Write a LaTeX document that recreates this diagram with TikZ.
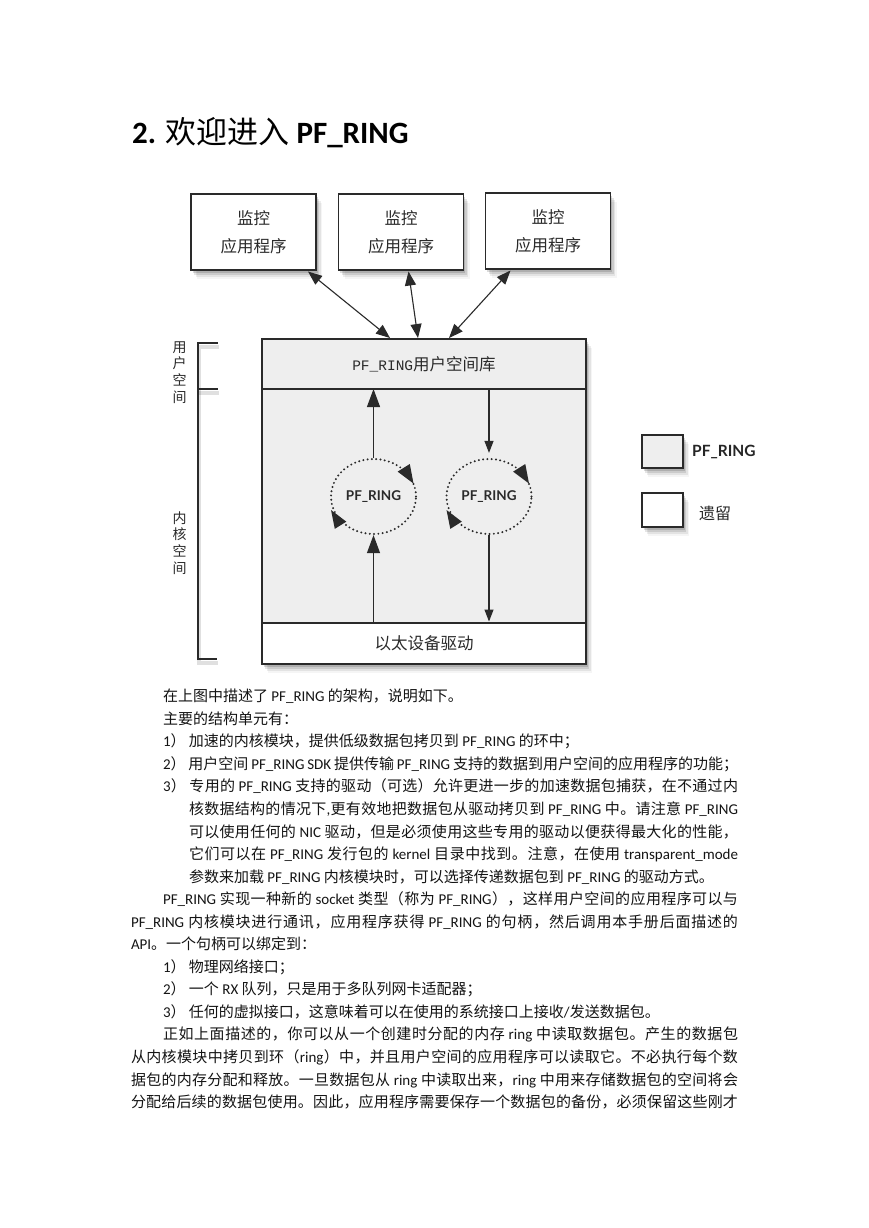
\documentclass[tikz,border=0pt]{standalone}
\usepackage{fontspec}
\setmainfont{Carlito}
\newfontfamily\cjkfont{Noto Sans CJK SC}
\newfontfamily\latofont{Lato}
\newfontfamily\lmono{Liberation Mono}
\usetikzlibrary{arrows.meta,shapes.geometric,calc}

% automatic switch to the CJK font for CJK characters
\XeTeXinterchartokenstate=1
\ifdefined\newXeTeXintercharclass
  \newXeTeXintercharclass\cjkcls
\else
  \chardef\cjkcls=77
\fi
\newcount\cjkc
\def\cjkrange#1#2{\cjkc=#1\relax\loop\XeTeXcharclass\cjkc=\cjkcls\relax\advance\cjkc by 1\relax\ifnum\cjkc<#2\relax\repeat}
\cjkrange{"4E00}{"A000}
\cjkrange{"3000}{"3040}
\cjkrange{"FF00}{"FFF0}
\def\cjkglue{\hskip0pt plus 2pt\relax}
\XeTeXinterchartoks 0 \cjkcls = {\cjkglue\begingroup\cjkfont\mdseries}
\XeTeXinterchartoks 4095 \cjkcls = {\begingroup\cjkfont\mdseries}
\XeTeXinterchartoks \cjkcls 0 = {\endgroup\cjkglue}
\XeTeXinterchartoks \cjkcls 4095 = {\endgroup}
\XeTeXinterchartoks \cjkcls \cjkcls = {\cjkglue}

\newcommand\jl[2]{\hbox to #1pt{#2}}

\definecolor{ringgray}{HTML}{EEEEEE}
\definecolor{ink}{HTML}{2A2A2A}

\tikzset{
  softshadow/.style={
    preaction={draw=none, fill=black, opacity=.14, transform canvas={xshift=1.5pt, yshift=-2.5pt}},
    preaction={draw=none, fill=black, opacity=.10, transform canvas={xshift=3pt, yshift=-4.5pt}},
    preaction={draw=none, fill=black, opacity=.07, transform canvas={xshift=4.5pt, yshift=-6.5pt}},
    preaction={draw=none, fill=black, opacity=.04, transform canvas={xshift=6pt, yshift=-8.5pt}}},
  frame/.style={draw=ink, line width=1.1pt, inner sep=0pt, outer sep=0pt},
  appbox/.style={frame, fill=white, softshadow, minimum width=125pt, minimum height=76pt,
    align=center, font=\fontsize{16.5}{28}\selectfont, text=ink},
  section/.style={frame, minimum width=324pt, font=\fontsize{16.5}{20}\selectfont, text=ink},
  ring/.style={ellipse, minimum width=85pt, minimum height=75pt, inner sep=0pt,
    draw=ink, line width=2.2pt, dash pattern=on 0pt off 4.3pt, line cap=round,
    font=\latofont\bfseries\fontsize{13.5}{15}\selectfont, text=ink},
  ringhead/.style={fill=ink},
  arr/.style={draw=ink, line width=1.1pt},
  bigtip/.style={-{Triangle[length=18pt,width=13pt]}},
  smalltip/.style={-{Triangle[length=12pt,width=9pt]}},
  bothtip/.style={{Triangle[length=14pt,width=11pt]}-{Triangle[length=14pt,width=11pt]}},
  bracket/.style={draw=ink, line width=1.1pt,
    preaction={draw=black, opacity=.12, line width=3.5pt, transform canvas={xshift=1pt, yshift=-4pt}}},
  vlabel/.style={align=center, inner sep=0pt, font=\fontsize{14}{16.8}\selectfont, text=ink},
  body/.style={anchor=base west, inner sep=0pt, outer sep=0pt, font=\fontsize{15}{18}\selectfont, text=black!92},
}

\begin{document}
\begin{tikzpicture}[x=1pt,y=-1pt]
\useasboundingbox[fill=white] (0,0) rectangle (869,1228);

% title
\node[anchor=base west, inner sep=0pt, font=\fontsize{31}{36}\selectfont\bfseries] (title) at (132,143) {2. 欢迎进入 PF\_RING};

% application boxes
\node[appbox] (app1) at (253.5,232) {监控\\应用程序};
\node[appbox] (app2) at (401,232) {监控\\应用程序};
\node[appbox] (app3) at (548,231) {监控\\应用程序};

% main box
\node[frame, fill=white, softshadow, minimum width=324pt, minimum height=325pt] (mainframe) at (424,501.5) {};
\node[section, fill=ringgray, minimum height=50pt] (lib) at (424,364) {{\lmono\fontsize{14.5}{16}\selectfont PF\_RING}用户空间库};
\node[section, fill=ringgray, minimum height=234pt] (kernel) at (424,506) {};
\node[section, fill=white, minimum height=41pt] (drv) at (424,643.5) {以太设备驱动};

% rings
\node[ring] (ring1) at (373.5,496.5) {PF\_RING};
\node[ring] (ring2) at (489,496.5) {PF\_RING};
\foreach \r in {ring1,ring2}{
  \fill[ringhead, shift={($(\r.center)+(40,-13)$)}, rotate=-58] (0,0) -- (-18.5,7.2) -- (-18.5,-7.2) -- cycle;
  \fill[ringhead, shift={($(\r.center)+(-42.5,13.5)$)}, rotate=122] (0,0) -- (-18,6.8) -- (-18,-6.8) -- cycle;
}

% vertical data arrows
\draw[arr, bigtip] (ring1.north) -- (ring1.north |- lib.south);
\draw[arr, bigtip] (ring1.south |- drv.north) -- (ring1.south);
\draw[arr, smalltip, shorten >=5pt] (ring2.north |- lib.south) -- (ring2.north);
\draw[arr, smalltip, shorten >=1.5pt] (ring2.south) -- (ring2.south |- drv.north);

% arrows between applications and library
\coordinate (t1) at ($(app1.south west)+(117,1.5)$);
\coordinate (t2) at ($(app2.south west)+(70,1.5)$);
\coordinate (t3) at ($(app3.south west)+(25,1.5)$);
\coordinate (b1) at ($(lib.north west)+(128,-1)$);
\coordinate (b2) at ($(lib.north west)+(156,-1)$);
\coordinate (b3) at ($(lib.north west)+(187,-1)$);
\draw[arr, bothtip] (t1) -- (b1);
\draw[arr, bothtip] (t2) -- (b2);
\draw[arr, bothtip] (t3) -- (b3);

% brackets on the left
\coordinate (brtop) at (198,343);
\coordinate (brmid) at (198,389);
\coordinate (brbot) at (198,659);
\coordinate (brtopend) at (218,343);
\coordinate (brmidend) at (218,389);
\coordinate (brbotend) at (217,659);
\draw[bracket] (brtopend) -- (brtop) -- (brbot) -- (brbotend);
\draw[bracket] (brmid) -- (brmidend);
\node[vlabel] (userspace) at (179.5,372.5) {用\\户\\空\\间};
\node[vlabel] (kernelspace) at (179.5,543) {内\\核\\空\\间};

% legend
\node[frame, fill=ringgray, softshadow, minimum width=41pt, minimum height=33pt] (leg1) at (662.5,451.5) {};
\node[frame, fill=white, softshadow, minimum width=41pt, minimum height=34pt] (leg2) at (662.5,510) {};
\node[anchor=west, inner sep=0pt, font=\latofont\bfseries\fontsize{15.5}{18}\selectfont, text=black!85] (leg1t) at (692,452) {PF\_RING};
\node[anchor=west, inner sep=0pt, font=\fontsize{16}{18}\selectfont, text=ink] (leg2t) at (699,513) {遗留};

% body text
\node[body] (l1) at (163,701.7) {在上图中描述了 PF\_RING 的架构，说明如下。};
\node[body] (l2) at (163,724.25) {主要的结构单元有：};
\node[body] (l3) at (163,746.8) {1） 加速的内核模块，提供低级数据包拷贝到 PF\_RING 的环中；};
\node[body] (l4) at (163,769.35) {\jl{575}{2） 用户空间 PF\_RING SDK 提供传输 PF\_RING 支持的数据到用户空间的应用程序的功能；}};
\node[body] (l5) at (163,791.9) {\jl{575}{3） 专用的 PF\_RING 支持的驱动（可选）允许更进一步的加速数据包捕获，在不通过内}};
\node[body] (l6) at (189,814.45) {\jl{549}{核数据结构的情况下,更有效地把数据包从驱动拷贝到 PF\_RING 中。请注意 PF\_RING}};
\node[body] (l7) at (189,837.0) {\jl{549}{可以使用任何的 NIC 驱动，但是必须使用这些专用的驱动以便获得最大化的性能，}};
\node[body] (l8) at (189,859.55) {\jl{549}{它们可以在 PF\_RING 发行包的 kernel 目录中找到。注意，在使用 transparent\_mode}};
\node[body] (l9) at (189,882.1) {参数来加载 PF\_RING 内核模块时，可以选择传递数据包到 PF\_RING 的驱动方式。};
\node[body] (l10) at (163,904.65) {\jl{575}{PF\_RING 实现一种新的 socket 类型（称为 PF\_RING），这样用户空间的应用程序可以与}};
\node[body] (l11) at (131,927.2) {\jl{607}{PF\_RING 内核模块进行通讯，应用程序获得 PF\_RING 的句柄，然后调用本手册后面描述的}};
\node[body] (l12) at (131,949.75) {API。一个句柄可以绑定到：};
\node[body] (l13) at (163,972.3) {1） 物理网络接口；};
\node[body] (l14) at (163,994.85) {2） 一个 RX 队列，只是用于多队列网卡适配器；};
\node[body] (l15) at (163,1017.4) {3） 任何的虚拟接口，这意味着可以在使用的系统接口上接收/发送数据包。};
\node[body] (l16) at (163,1039.95) {\jl{575}{正如上面描述的，你可以从一个创建时分配的内存 ring 中读取数据包。产生的数据包}};
\node[body] (l17) at (131,1062.5) {\jl{607}{从内核模块中拷贝到环（ring）中，并且用户空间的应用程序可以读取它。不必执行每个数}};
\node[body] (l18) at (131,1085.05) {\jl{607}{据包的内存分配和释放。一旦数据包从 ring 中读取出来，ring 中用来存储数据包的空间将会}};
\node[body] (l19) at (131,1107.6) {\jl{607}{分配给后续的数据包使用。因此，应用程序需要保存一个数据包的备份，必须保留这些刚才}};
\end{tikzpicture}
\end{document}
